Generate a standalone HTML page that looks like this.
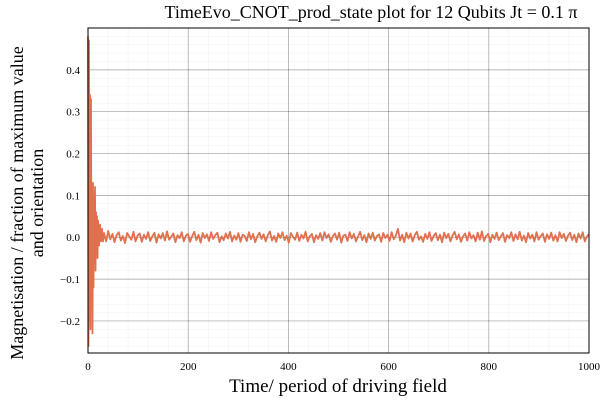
<!DOCTYPE html>
<html><head><meta charset="utf-8"><style>
body{margin:0;background:#fff;}
svg text{font-family:"Liberation Serif",serif;fill:#000;}
</style></head><body>
<svg id="chart" width="600" height="400" viewBox="0 0 600 400" xmlns="http://www.w3.org/2000/svg">
<rect width="600" height="400" fill="#fff"/>
<g id="grid"></g>
<g id="series"></g>
<rect x="88" y="28" width="501" height="325" fill="none" stroke="#000" stroke-width="1"/>
<g id="ticks"></g>
<text x="371" y="18" font-size="18" text-anchor="middle">TimeEvo_CNOT_prod_state plot for 12 Qubits Jt = 0.1 π</text>
<text x="338" y="392" font-size="19" text-anchor="middle">Time/ period of driving field</text>
<text transform="translate(23,203) rotate(-90)" font-size="18" text-anchor="middle">Magnetisation / fraction of maximum value</text>
<text transform="translate(43,203) rotate(-90)" font-size="18" text-anchor="middle">and orientation</text>
</svg>
<script>
const xTicks=[0,200,400,600,800,1000];
const yTicks=[-0.2,-0.1,0.0,0.1,0.2,0.3,0.4];
const yTickLabels=["−0.2","−0.1","0.0","0.1","0.2","0.3","0.4"];
const earlyT=[0,1,2,3,4,5,6,7,8,9,10,11,12,13,14,15,16,17,18,19,20,22,24,26,28,30];
const earlyV=[0.48,-0.26,0.47,-0.20,0.34,-0.22,0.33,-0.15,0.12,-0.23,0.13,-0.12,0.10,-0.06,0.12,-0.08,0.06,-0.03,0.05,-0.05,0.04,-0.02,0.03,-0.01,0.02,-0.01];
const tailStart=32, tailEnd=1000;
const tailV=[0.01,-0.01,0.015,-0.005,0.008,-0.012,0.005,0.012,-0.008,0.003,-0.014,0.01,0.002,-0.006,0.013,-0.01,0.004,0.009,-0.011,0.006,
-0.004,0.012,-0.009,0.002,0.011,-0.013,0.007,-0.003,0.01,-0.008,0.014,-0.006,0.001,0.009,-0.012,0.005,-0.002,0.012,-0.01,0.004,
0.008,-0.011,0.003,0.013,-0.007,0.006,-0.013,0.01,-0.002,0.007,-0.009,0.012,-0.004,0.005,0.011,-0.012,0.002,-0.007,0.009,-0.003,
0.013,-0.01,0.004,-0.006,0.01,-0.011,0.006,0.003,-0.009,0.012,-0.005,0.008,-0.012,0.002,0.011,-0.004,0.007,-0.01,0.005,0.014,
-0.008,0.003,-0.011,0.009,-0.002,0.012,-0.007,0.004,-0.013,0.01,0.001,-0.006,0.011,-0.009,0.006,-0.003,0.013,-0.01,0.002,0.008,
-0.012,0.005,-0.004,0.01,-0.008,0.012,-0.002,0.007,-0.011,0.003,0.009,-0.006,0.011,-0.013,0.004,0.006,-0.009,0.012,-0.003,0.008,
-0.01,0.002,0.013,-0.007,0.005,-0.012,0.009,-0.004,0.011,-0.008,0.003,0.007,-0.011,0.01,-0.002,0.006,-0.009,0.012,-0.005,0.004,
0.02,-0.008,0.006,-0.012,0.011,-0.003,0.009,-0.01,0.005,0.013,-0.006,0.002,-0.011,0.008,-0.004,0.012,-0.009,0.003,0.01,-0.007,
0.006,-0.012,0.011,-0.002,0.008,-0.01,0.004,0.013,-0.005,0.007,-0.011,0.002,0.009,-0.008,0.012,-0.003,0.005,-0.01,0.011,-0.006,
0.014,-0.009,0.003,0.008,-0.012,0.006,-0.004,0.011,-0.007,0.002,0.01,-0.011,0.005,-0.002,0.012,-0.009,0.007,-0.005,0.013,-0.008,
0.004,-0.012,0.01,-0.003,0.006,-0.01,0.012,-0.006,0.003,0.009,-0.011,0.007,-0.004,0.011,-0.008,0.005,-0.01,0.012,-0.002,0.008,
-0.009,0.004,0.011,-0.007,0.006,-0.012,0.009,-0.003,0.012,-0.01,0.002,0.007];
const X0=88,X1=589,Y0=28,Y1=353,XMIN=0,XMAX=1000,YMAX=0.5,YMIN=-0.2766;
const sx=v=>X0+(v-XMIN)/(XMAX-XMIN)*(X1-X0);
const sy=v=>Y1-(v-YMIN)/(YMAX-YMIN)*(Y1-Y0);
const NS="http://www.w3.org/2000/svg";
function mk(tag,attrs,parent){const e=document.createElementNS(NS,tag);for(const k in attrs)e.setAttribute(k,attrs[k]);parent.appendChild(e);return e;}
const grid=document.getElementById('grid'),ticks=document.getElementById('ticks'),series=document.getElementById('series');
for(let v=0;v<=1000;v+=40){const l=mk('line',{x1:sx(v),x2:sx(v),y1:Y0,y2:Y1,stroke:'#000','stroke-opacity':0.06,'stroke-width':0.5},grid);

}
for(let v=-0.26;v<=0.5;v+=0.02){const l=mk('line',{x1:X0,x2:X1,y1:sy(v),y2:sy(v),stroke:'#000','stroke-opacity':0.06,'stroke-width':0.5},grid);

}
xTicks.forEach(v=>{const l=mk('line',{x1:sx(v),x2:sx(v),y1:Y0,y2:Y1,stroke:'#000','stroke-opacity':0.35,'stroke-width':0.7},grid);


const t=mk('text',{x:sx(v),y:370,'font-size':11,'text-anchor':'middle'},ticks);t.textContent=v;

});
yTicks.forEach((v,i)=>{const l=mk('line',{x1:X0,x2:X1,y1:sy(v),y2:sy(v),stroke:'#000','stroke-opacity':0.35,'stroke-width':0.7},grid);


const t=mk('text',{x:80,y:sy(v)+4,'font-size':11,'text-anchor':'end'},ticks);t.textContent=yTickLabels[i];

});
let pts=earlyT.map((t,i)=>sx(t)+','+sy(earlyV[i]));
const tailStep=(tailEnd-tailStart)/(tailV.length-1);
tailV.forEach((v,i)=>{const t=tailStart+i*tailStep;pts.push(sx(t)+','+sy(v));});
const pl=mk('polyline',{points:pts.join(' '),fill:'none',stroke:'#e0714f','stroke-width':1.8,'stroke-linejoin':'round'},series);


</script>
</body></html>
